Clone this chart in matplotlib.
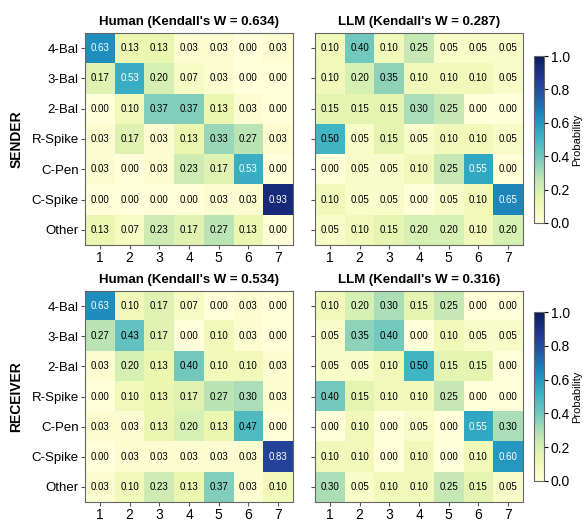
import numpy as np
import matplotlib
matplotlib.use("Agg")
import matplotlib.pyplot as plt

plt.rcParams['font.family'] = ['Liberation Sans', 'DejaVu Sans']

rows = ['4-Bal', '3-Bal', '2-Bal', 'R-Spike', 'C-Pen', 'C-Spike', 'Other']
cols = ['1', '2', '3', '4', '5', '6', '7']

sender_human = [
    [0.63, 0.13, 0.13, 0.03, 0.03, 0.00, 0.03],
    [0.17, 0.53, 0.20, 0.07, 0.03, 0.00, 0.00],
    [0.00, 0.10, 0.37, 0.37, 0.13, 0.03, 0.00],
    [0.03, 0.17, 0.03, 0.13, 0.33, 0.27, 0.03],
    [0.03, 0.00, 0.03, 0.23, 0.17, 0.53, 0.00],
    [0.00, 0.00, 0.00, 0.00, 0.03, 0.03, 0.93],
    [0.13, 0.07, 0.23, 0.17, 0.27, 0.13, 0.00],
]
sender_llm = [
    [0.10, 0.40, 0.10, 0.25, 0.05, 0.05, 0.05],
    [0.10, 0.20, 0.35, 0.10, 0.10, 0.10, 0.05],
    [0.15, 0.15, 0.15, 0.30, 0.25, 0.00, 0.00],
    [0.50, 0.05, 0.15, 0.05, 0.10, 0.10, 0.05],
    [0.00, 0.05, 0.05, 0.10, 0.25, 0.55, 0.00],
    [0.10, 0.05, 0.05, 0.00, 0.05, 0.10, 0.65],
    [0.05, 0.10, 0.15, 0.20, 0.20, 0.10, 0.20],
]
receiver_human = [
    [0.63, 0.10, 0.17, 0.07, 0.00, 0.03, 0.00],
    [0.27, 0.43, 0.17, 0.00, 0.10, 0.03, 0.00],
    [0.03, 0.20, 0.13, 0.40, 0.10, 0.10, 0.03],
    [0.00, 0.10, 0.13, 0.17, 0.27, 0.30, 0.03],
    [0.03, 0.03, 0.13, 0.20, 0.13, 0.47, 0.00],
    [0.00, 0.03, 0.03, 0.03, 0.03, 0.03, 0.83],
    [0.03, 0.10, 0.23, 0.13, 0.37, 0.03, 0.10],
]
receiver_llm = [
    [0.10, 0.20, 0.30, 0.15, 0.25, 0.00, 0.00],
    [0.05, 0.35, 0.40, 0.00, 0.10, 0.05, 0.05],
    [0.05, 0.05, 0.10, 0.50, 0.15, 0.15, 0.00],
    [0.40, 0.15, 0.10, 0.10, 0.25, 0.00, 0.00],
    [0.00, 0.10, 0.00, 0.05, 0.00, 0.55, 0.30],
    [0.10, 0.10, 0.00, 0.10, 0.00, 0.10, 0.60],
    [0.30, 0.05, 0.10, 0.10, 0.25, 0.15, 0.05],
]

panels = [
    (sender_human, "Human (Kendall's W = 0.634)"),
    (sender_llm, "LLM (Kendall's W = 0.287)"),
    (receiver_human, "Human (Kendall's W = 0.534)"),
    (receiver_llm, "LLM (Kendall's W = 0.316)"),
]
row_titles = ['SENDER', 'RECEIVER']

W, H = 583, 521
fig = plt.figure(figsize=(W / 100, H / 100), dpi=100)

def box(x0, y0, x1, y1):
    return [x0 / W, 1 - y1 / H, (x1 - x0) / W, (y1 - y0) / H]

heat_boxes = [
    box(85, 33, 293, 245), box(315, 33, 523, 245),
    box(85, 291, 293, 502), box(315, 291, 523, 502),
]
cbar_boxes = [box(534, 56, 544, 223), box(534, 312, 544, 481)]

cmap = plt.get_cmap('YlGnBu')
for i, (data, title) in enumerate(panels):
    arr = np.array(data)
    ax = fig.add_axes(heat_boxes[i])
    im = ax.imshow(arr, cmap=cmap, vmin=0, vmax=1, aspect='auto')
    for r in range(arr.shape[0]):
        for c in range(arr.shape[1]):
            v = arr[r, c]
            ax.text(c, r, f"{v:.2f}", ha='center', va='center', fontsize=7,
                    color='white' if v > 0.5 else 'black')
    ax.set_xticks(range(len(cols)))
    ax.set_xticklabels(cols, fontsize=10)
    ax.set_yticks(range(len(rows)))
    if i % 2 == 0:
        ax.set_yticklabels(rows, fontsize=9.5)
        ax.set_ylabel(row_titles[i // 2], fontsize=10, fontweight='bold', labelpad=6)
    else:
        ax.set_yticklabels([])
        ax.tick_params(axis='y', length=0)
    ax.tick_params(axis='both', pad=1.5, length=3, color='#555555')
    for s in ax.spines.values():
        s.set_color('#666666')
        s.set_linewidth(0.8)
    ax.set_title(title, fontsize=9.5, fontweight='bold', pad=6)
    if i % 2 == 1:
        cax = fig.add_axes(cbar_boxes[i // 2])
        cb = fig.colorbar(im, cax=cax)
        cb.set_ticks([0, 0.2, 0.4, 0.6, 0.8, 1.0])
        cb.ax.tick_params(labelsize=10, length=3, pad=2)
        cb.set_label('Probability', fontsize=8, labelpad=1)
        cb.outline.set_linewidth(0.8)
        cb.outline.set_edgecolor('#666666')

fig.savefig('out.png', dpi=100)
